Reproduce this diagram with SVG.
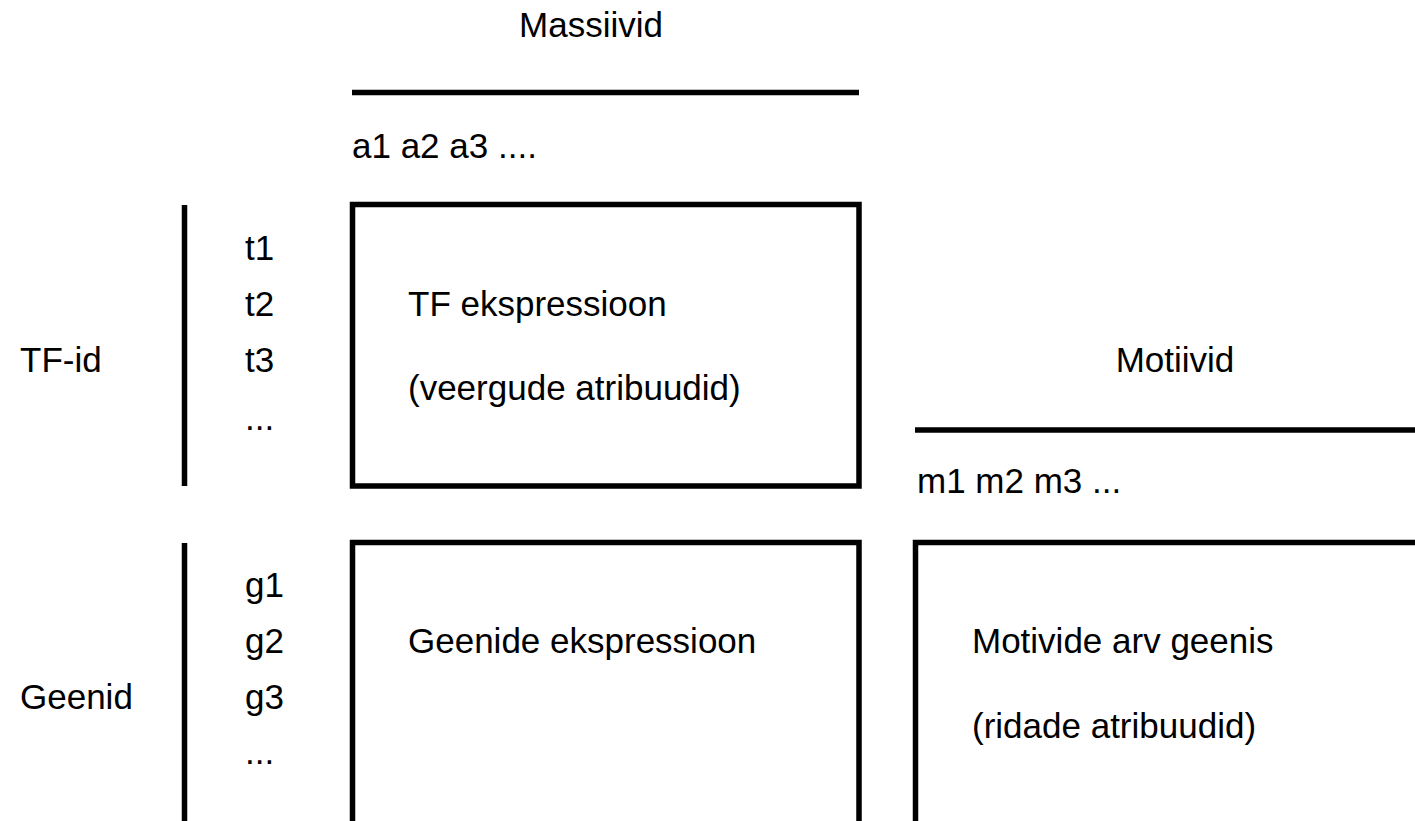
<svg xmlns="http://www.w3.org/2000/svg" width="1415" height="821" viewBox="0 0 1415 821">
<style>
text { font-family: "Liberation Sans", Arial, sans-serif; font-size: 35px; fill: #000; }
.ln { stroke: #000; stroke-width: 5.5; fill: none; }
</style>
<rect width="1415" height="821" fill="#fff"/>
<g id="connectors">
<line class="ln" x1="352" y1="92.5" x2="859" y2="92.5"/>
<line class="ln" x1="915" y1="430" x2="1415" y2="430"/>
<line class="ln" x1="184.5" y1="205" x2="184.5" y2="486"/>
<line class="ln" x1="184.5" y1="543" x2="184.5" y2="821"/>
</g>
<g id="massiivid"><text x="591" y="37" text-anchor="middle">Massiivid</text>
<text x="352" y="158">a1 a2 a3 ....</text></g>
<g id="tfid"><text x="20" y="372">TF-id</text>
<text x="245" y="260">t1</text><text x="245" y="316">t2</text><text x="245" y="372">t3</text><text x="245" y="430">...</text></g>
<g id="tfbox"><rect class="ln" x="352.5" y="204.5" width="506.5" height="281.5"/>
<text x="408" y="316">TF ekspressioon</text>
<text x="408" y="400">(veergude atribuudid)</text></g>
<g id="motiivid"><text x="1175" y="372" text-anchor="middle">Motiivid</text>
<text x="917" y="493">m1 m2 m3 ...</text></g>
<g id="geenid"><text x="20" y="709">Geenid</text>
<text x="245" y="597">g1</text><text x="245" y="653">g2</text><text x="245" y="709">g3</text><text x="245" y="764">...</text></g>
<g id="geenibox"><path class="ln" d="M352.5 830 V542.5 H859 V830"/>
<text x="408" y="653">Geenide ekspressioon</text></g>
<g id="motiivbox"><path class="ln" d="M915.5 830 V542.5 H1420"/>
<text x="972" y="653">Motivide arv geenis</text>
<text x="972" y="738">(ridade atribuudid)</text></g>
</svg>
